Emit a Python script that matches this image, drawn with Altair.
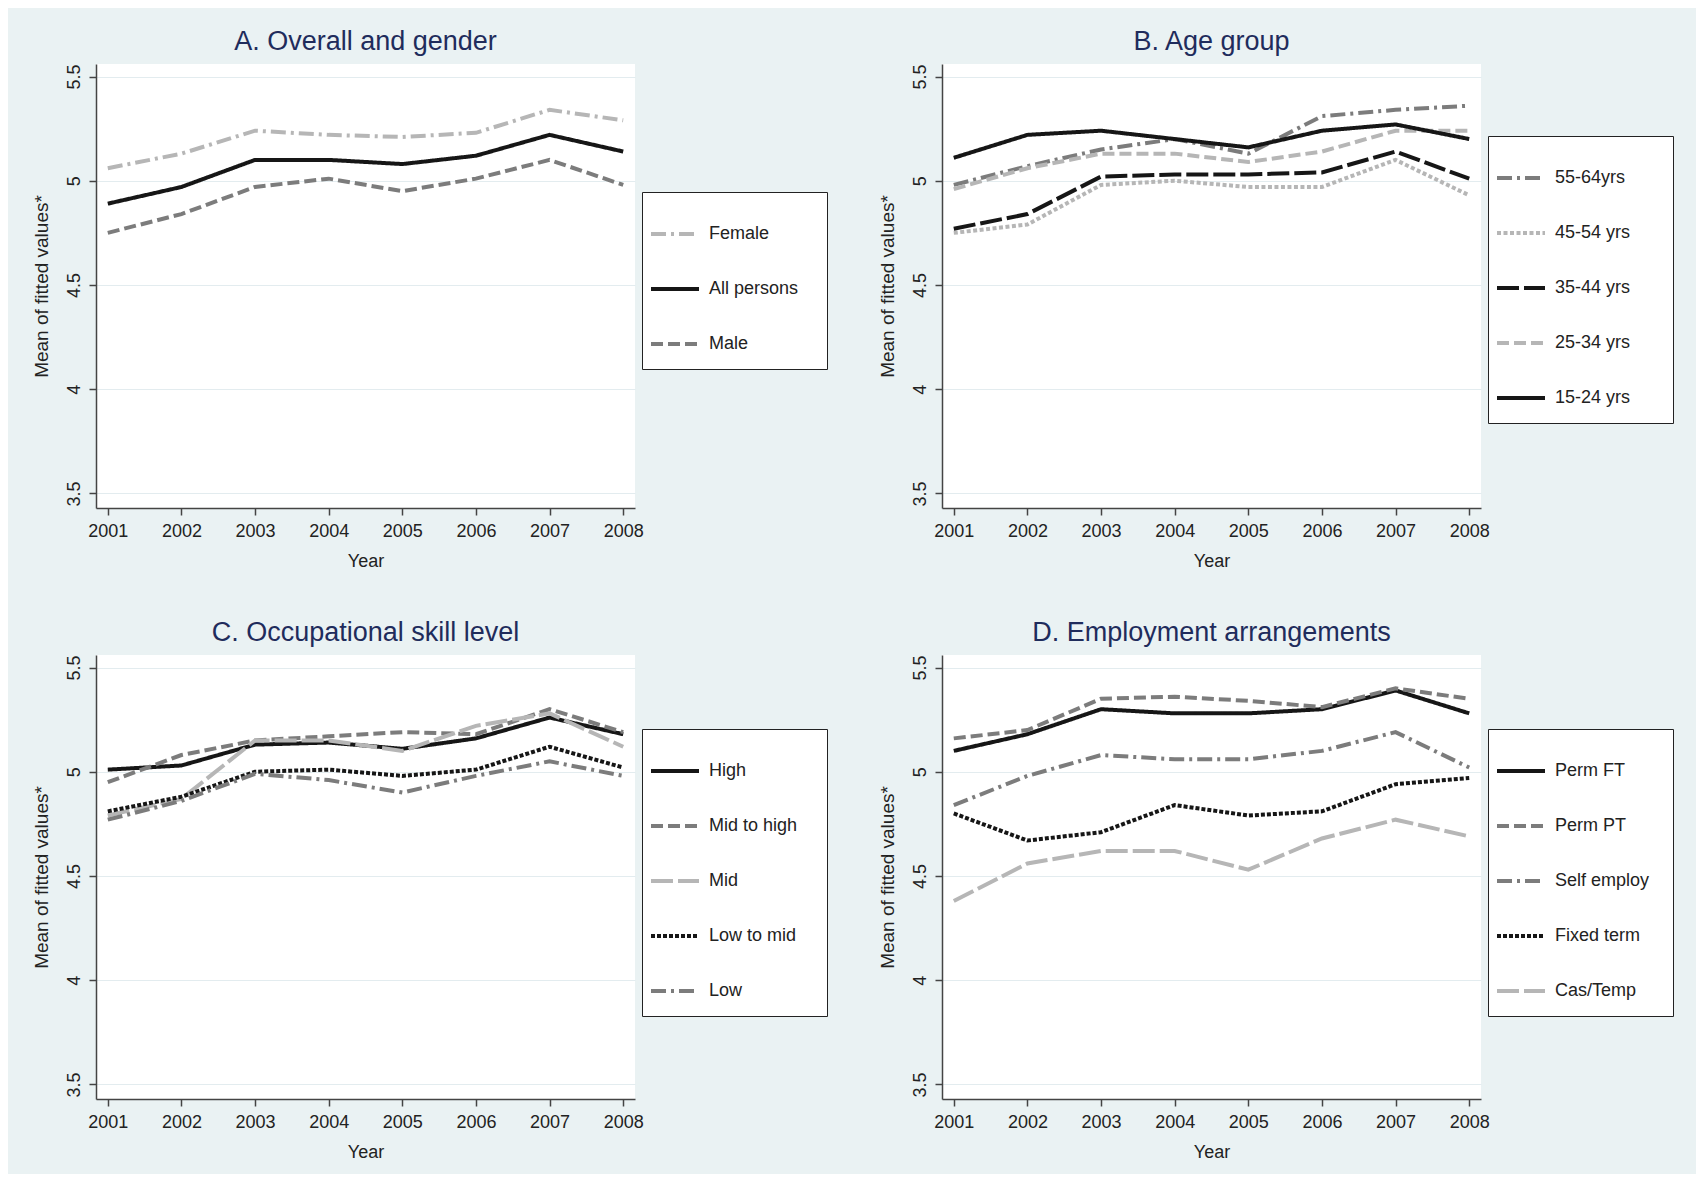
import altair as alt
import pandas as pd

years = [2001, 2002, 2003, 2004, 2005, 2006, 2007, 2008]

# Panel A
a_names = ["Female", "All persons", "Male"]
a_female = [5.06, 5.13, 5.24, 5.22, 5.21, 5.23, 5.34, 5.29]
a_all = [4.89, 4.97, 5.10, 5.10, 5.08, 5.12, 5.22, 5.14]
a_male = [4.75, 4.84, 4.97, 5.01, 4.95, 5.01, 5.10, 4.98]

# Panel B
b_names = ["55-64yrs", "45-54 yrs", "35-44 yrs", "25-34 yrs", "15-24 yrs"]
b_55_64 = [4.98, 5.07, 5.15, 5.20, 5.13, 5.31, 5.34, 5.36]
b_45_54 = [4.75, 4.79, 4.98, 5.00, 4.97, 4.97, 5.10, 4.93]
b_35_44 = [4.77, 4.84, 5.02, 5.03, 5.03, 5.04, 5.14, 5.01]
b_25_34 = [4.96, 5.06, 5.13, 5.13, 5.09, 5.14, 5.24, 5.24]
b_15_24 = [5.11, 5.22, 5.24, 5.20, 5.16, 5.24, 5.27, 5.20]

# Panel C
c_names = ["High", "Mid to high", "Mid", "Low to mid", "Low"]
c_high = [5.01, 5.03, 5.13, 5.14, 5.11, 5.16, 5.26, 5.18]
c_mid_high = [4.95, 5.08, 5.15, 5.17, 5.19, 5.18, 5.30, 5.19]
c_mid = [4.79, 4.87, 5.15, 5.15, 5.10, 5.22, 5.28, 5.12]
c_low_mid = [4.81, 4.88, 5.00, 5.01, 4.98, 5.01, 5.12, 5.02]
c_low = [4.77, 4.86, 4.99, 4.96, 4.90, 4.98, 5.05, 4.98]

# Panel D
d_names = ["Perm FT", "Perm PT", "Self employ", "Fixed term", "Cas/Temp"]
d_perm_ft = [5.10, 5.18, 5.30, 5.28, 5.28, 5.30, 5.39, 5.28]
d_perm_pt = [5.16, 5.20, 5.35, 5.36, 5.34, 5.31, 5.40, 5.35]
d_self = [4.84, 4.98, 5.08, 5.06, 5.06, 5.10, 5.19, 5.02]
d_fixed = [4.80, 4.67, 4.71, 4.84, 4.79, 4.81, 4.94, 4.97]
d_cas = [4.38, 4.56, 4.62, 4.62, 4.53, 4.68, 4.77, 4.69]

y_ticks = [3.5, 4, 4.5, 5, 5.5]

BLACK = "#161616"
MID = "#7c7c7c"
LIGHT = "#b6b6b6"
SOLID = [1, 0]
DASH = [12, 5]
LONGDASH = [22, 5]
DASHDOT = [15, 5, 3, 5]
DOT = [4, 2]
SHORTDOT = [4, 2.5]

FONT = "Liberation Sans"
NAVY = "#1f2c5c"
TXT = "#222222"


def panel(title, names, series, colors, dashes, legend_y, right_extra):
    rows = []
    for n, vals in zip(names, series):
        for yr, v in zip(years, vals):
            rows.append({"Year": yr, "value": v, "series": n})
    df = pd.DataFrame(rows)
    leg = alt.Legend(
        orient="none", legendX=546, legendY=legend_y,
        title=" ", titleOrient="right", titlePadding=right_extra, titleFontSize=1,
        strokeColor="#222222", fillColor="white", padding=16,
        symbolType="stroke", symbolSize=2304, symbolStrokeWidth=4,
        symbolOffset=-9,
        labelFont=FONT, labelFontSize=18, labelColor=TXT, labelOffset=8,
        rowPadding=20,
    )
    return alt.Chart(df, title=alt.Title(title, font=FONT, fontSize=27, fontWeight="normal",
                                          color=NAVY, offset=8)).mark_line(strokeWidth=4).encode(
        x=alt.X("Year:Q",
                scale=alt.Scale(domain=[2000.84, 2008.16], nice=False, zero=False),
                axis=alt.Axis(values=years, format="d", title="Year", grid=False,
                              tickSize=7, labelPadding=7, titlePadding=12)),
        y=alt.Y("value:Q",
                scale=alt.Scale(domain=[3.43, 5.56], nice=False, zero=False),
                axis=alt.Axis(values=y_ticks, format="~g", title="Mean of fitted values*",
                              grid=True, gridColor="#e3ecef", labelAngle=270,
                              labelAlign="center", labelBaseline="alphabetic",
                              tickSize=7, labelPadding=10, titlePadding=14,
                              titleFontSize=19)),
        color=alt.Color("series:N", sort=names,
                        scale=alt.Scale(domain=names, range=colors), legend=leg),
        strokeDash=alt.StrokeDash("series:N", sort=names,
                                  scale=alt.Scale(domain=names, range=dashes), legend=leg),
    ).properties(width=539, height=444)


pa = panel("A. Overall and gender", a_names, [a_female, a_all, a_male],
           [LIGHT, BLACK, MID], [DASHDOT, SOLID, DASH], 128, 13)
pb = panel("B. Age group", b_names, [b_55_64, b_45_54, b_35_44, b_25_34, b_15_24],
           [MID, LIGHT, BLACK, LIGHT, BLACK], [DASHDOT, SHORTDOT, LONGDASH, DASH, SOLID], 72, 27)
pc = panel("C. Occupational skill level", c_names, [c_high, c_mid_high, c_mid, c_low_mid, c_low],
           [BLACK, MID, LIGHT, BLACK, MID], [SOLID, DASH, LONGDASH, DOT, DASHDOT], 74, 14)
pd_ = panel("D. Employment arrangements", d_names, [d_perm_ft, d_perm_pt, d_self, d_fixed, d_cas],
            [BLACK, MID, MID, BLACK, LIGHT], [SOLID, DASH, DASHDOT, DOT, LONGDASH], 74, 8)

chart = alt.concat(pa, pb, pc, pd_, columns=2,
                   spacing=alt.RowColnumber(row=147, column=307)).properties(
    bounds="flush",
    padding={"left": 23, "top": 19, "right": 22, "bottom": 13},
    background="#eaf2f3",
).resolve_scale(color="independent", strokeDash="independent").configure_view(
    fill="white", strokeWidth=0
).configure_axis(
    labelFont=FONT, titleFont=FONT, labelFontSize=18, titleFontSize=18,
    labelColor=TXT, titleColor=TXT, titleFontWeight="normal",
    domainColor="#444444", domainWidth=1.5, tickColor="#444444", tickWidth=1.5,
)

chart.save("out.html", embed_options={"renderer": "svg", "actions": False})
